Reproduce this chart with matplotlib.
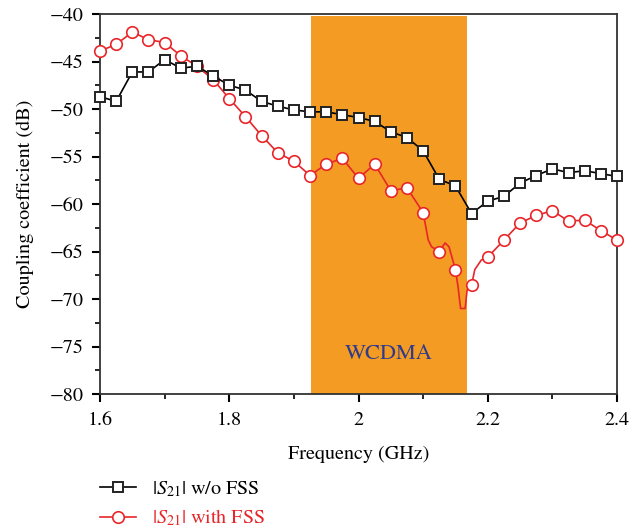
import numpy as np
import matplotlib
matplotlib.use("Agg")
import matplotlib.pyplot as plt
from matplotlib.ticker import MultipleLocator

plt.rcParams['font.family'] = ['STIXGeneral', 'DejaVu Serif']
plt.rcParams['mathtext.fontset'] = 'stix'

freq = [1.6 + 0.025 * i for i in range(33)]

s21_wo = [-48.7, -49.2, -46.1, -46.1, -44.8, -45.7, -45.5, -46.5, -47.5, -48.0,
          -49.2, -49.7, -50.1, -50.3, -50.3, -50.6, -50.9, -51.3, -52.4, -53.0,
          -54.4, -57.4, -58.1, -61.0, -59.7, -59.2, -57.8, -57.0, -56.3, -56.7,
          -56.5, -56.8, -57.1]

s21_with = [-43.9, -43.2, -41.9, -42.7, -43.0, -44.4, -45.5, -46.9, -48.9, -50.8,
            -52.8, -54.6, -55.5, -57.0, -55.8, -55.2, -57.3, -55.8, -58.6, -58.3,
            -60.9, -65.0, -66.9, -68.5, -65.6, -63.8, -62.0, -61.2, -60.7, -61.8,
            -61.7, -62.8, -63.8]

# extra points of the fine red curve (resonance region)
extra_f = [2.108, 2.113, 2.134, 2.140, 2.154, 2.158, 2.165, 2.168, 2.180, 2.190]
extra_v = [-63.8, -64.5, -64.1, -64.5, -68.7, -71.0, -71.0, -69.1, -66.9, -65.9]

band = (1.9265, 2.168)
band_label = "WCDMA"

fig = plt.figure(figsize=(6.32, 5.31), dpi=100)
ax = fig.add_axes([100/632, 1-394/531, 517/632, 380/531])

ax.axvspan(band[0], band[1], ymin=0, ymax=(80-40.2)/40, color='#F39B22', lw=0, zorder=0)
ax.text((band[0]+band[1])/2, -75.8, band_label, color='#2E3A8C', fontsize=16,
        ha='center', va='center')

lf = np.array(freq + extra_f)
lv = np.array(s21_with + extra_v)
order = np.argsort(lf)
ax.plot(lf[order], lv[order], color='#E8262A', lw=1.2, zorder=2)
ax.plot(freq, s21_with, ls='none', marker='o', ms=8.3, mfc='white', mec='#E8262A',
        mew=1.2, color='#E8262A', zorder=3, clip_on=False)
ax.plot(freq, s21_wo, color='black', lw=1.2, marker='s', ms=7.5, mfc='white',
        mec='#222222', mew=1.4, zorder=4, clip_on=False)

ax.set_xlim(1.6, 2.4)
ax.set_ylim(-80, -40)
ax.xaxis.set_minor_locator(MultipleLocator(0.1))
ax.yaxis.set_minor_locator(MultipleLocator(2.5))
ax.set_xticks([1.6, 1.8, 2.0, 2.2, 2.4])
ax.set_xticklabels(['1.6', '1.8', '2', '2.2', '2.4'])
ax.set_yticks(list(range(-80, -39, 5)))
ax.set_yticklabels(['\u221280', '\u221275', '\u221270', '\u221265', '\u221260',
                    '\u221255', '\u221250', '\u221245', '\u221240'])
ax.tick_params(which='major', direction='out', length=6, width=1.5, labelsize=14.5)
ax.tick_params(axis='x', which='major', pad=7)
ax.tick_params(axis='y', which='major', pad=6)
ax.tick_params(which='minor', direction='out', length=3.5, width=1.2)
for s in ax.spines.values():
    s.set_linewidth(1.3)
    s.set_color('#333333')
ax.set_xlabel('Frequency (GHz)', fontsize=14.5, labelpad=12)
ax.set_ylabel('Coupling coefficient (dB)', fontsize=14.5, labelpad=11)

h1, = ax.plot([], [], color='black', lw=1.2, marker='s', ms=7.5, mfc='white', mec='#222222', mew=1.4)
h2, = ax.plot([], [], color='#E8262A', lw=1.2, marker='o', ms=8.3, mfc='white', mec='#E8262A', mew=1.2)
leg = fig.legend([h1, h2], [r'$|S_{21}|$ w/o FSS', r'$|S_{21}|$ with FSS'],
                 loc='upper left', bbox_to_anchor=(100/632, 1-479/531), frameon=False,
                 borderpad=0, borderaxespad=0,
                 fontsize=14.5, handlelength=1.8, labelspacing=0.45, handletextpad=0.8)
leg.get_texts()[1].set_color('#E8262A')

fig.savefig('out.png', dpi=100)
